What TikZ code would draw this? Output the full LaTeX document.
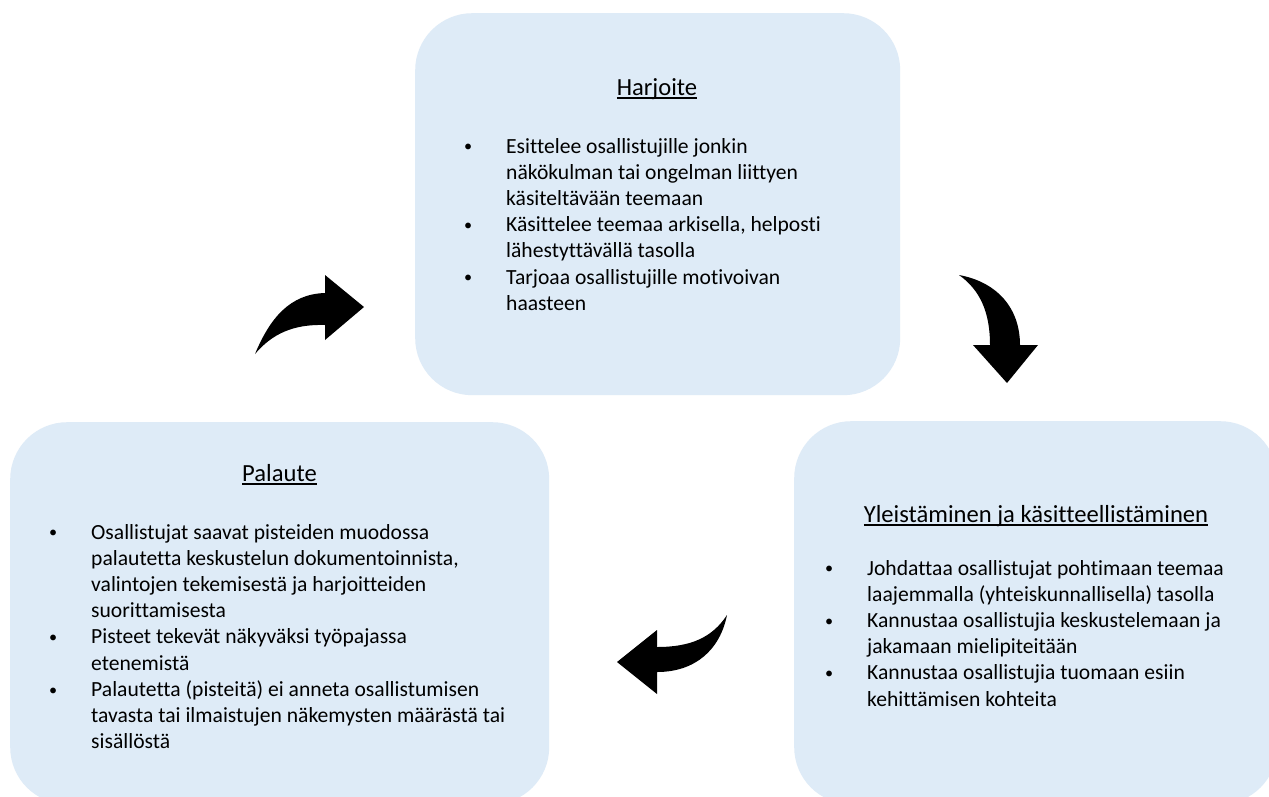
\documentclass[tikz,border=0pt]{standalone}
\usepackage{fontspec}
\setmainfont[Ligatures=NoCommon]{Carlito}
\definecolor{boxblue}{HTML}{DEEBF7}
\newcommand\titleul[1]{\setbox0\hbox{#1}\rlap{\rule[-3.5pt]{\wd0}{1.4pt}}\box0}
\newcommand\bul{\makebox[0pt]{\raisebox{1.2pt}{\scalebox{0.75}{\textbullet}}}}
\tikzset{
  box/.style={fill=boxblue, draw=none, rounded corners=57pt, inner sep=0pt, anchor=north west},
  titletext/.style={anchor=base, inner sep=0pt, font=\fontsize{24.6}{29}\selectfont},
  listtext/.style={anchor=base west, inner sep=0pt, align=left, font=\fontsize{21.6}{26.2}\selectfont},
  bigarrow/.style={fill=black, draw=none}
}
\begin{document}
\begin{tikzpicture}[x=1pt,y=-1pt]
\clip (0,0) rectangle (1269,796);
\fill[white] (0,0) rectangle (1269,796);

% boxes
\node[box, minimum width=485pt, minimum height=382pt] (harjbox) at (415,13) {};
\node[box, minimum width=483pt, minimum height=383pt] (yleisbox) at (794,421) {};
\node[box, minimum width=539pt, minimum height=382pt] (palbox) at (10,422) {};

% titles
\node[titletext] (harjtitle) at (657,95) {\titleul{Harjoite}};
\node[titletext] (yleistitle) at (1036,522) {\titleul{Yleistäminen ja käsitteellistäminen}};
\node[titletext] (paltitle) at (279.5,481) {\titleul{Palaute}};

% lists
\node[listtext] (harjlist) at (468,153) {%
\begin{tabular}[t]{@{}p{38pt}@{}l@{}}
\bul & Esittelee osallistujille jonkin\\
 & näkökulman tai ongelman liittyen\\
 & käsiteltävään teemaan\\
\bul & Käsittelee teemaa arkisella, helposti\\
 & lähestyttävällä tasolla\\
\bul & Tarjoaa osallistujille motivoivan\\
 & haasteen
\end{tabular}};

\node[listtext] (yleislist) at (829,575) {%
\begin{tabular}[t]{@{}p{38pt}@{}l@{}}
\bul & Johdattaa osallistujat pohtimaan teemaa\\
 & laajemmalla (yhteiskunnallisella) tasolla\\
\bul & Kannustaa osallistujia keskustelemaan ja\\
 & jakamaan mielipiteitään\\
\bul & Kannustaa osallistujia tuomaan esiin\\
 & kehittämisen kohteita
\end{tabular}};

\node[listtext] (pallist) at (53,539) {%
\begin{tabular}[t]{@{}p{38pt}@{}l@{}}
\bul & Osallistujat saavat pisteiden muodossa\\
 & palautetta keskustelun dokumentoinnista,\\
 & valintojen tekemisestä ja harjoitteiden\\
 & suorittamisesta\\
\bul & Pisteet tekevät näkyväksi työpajassa\\
 & etenemistä\\
\bul & Palautetta (pisteitä) ei anneta osallistumisen\\
 & tavasta tai ilmaistujen näkemysten määrästä tai\\
 & sisällöstä
\end{tabular}};

% curved arrows
\fill[bigarrow] (255,354) .. controls (270,318) and (290,294) .. (325,293)
  -- (325,275) -- (364,307) -- (325,340) -- (325,325)
  .. controls (293,324) and (272,334) .. (255,354) -- cycle;

\fill[bigarrow] (959,275) .. controls (997,282) and (1020,308) .. (1020,345)
  -- (1038,345) -- (1007,383) -- (973,345) -- (990,345)
  .. controls (990,312) and (980,290) .. (959,275) -- cycle;

\fill[bigarrow] (727,615) .. controls (712,638) and (690,647) .. (657,647)
  -- (657,630) -- (617,662) -- (657,694) -- (657,672)
  .. controls (695,672) and (720,650) .. (727,615) -- cycle;
\end{tikzpicture}
\end{document}
